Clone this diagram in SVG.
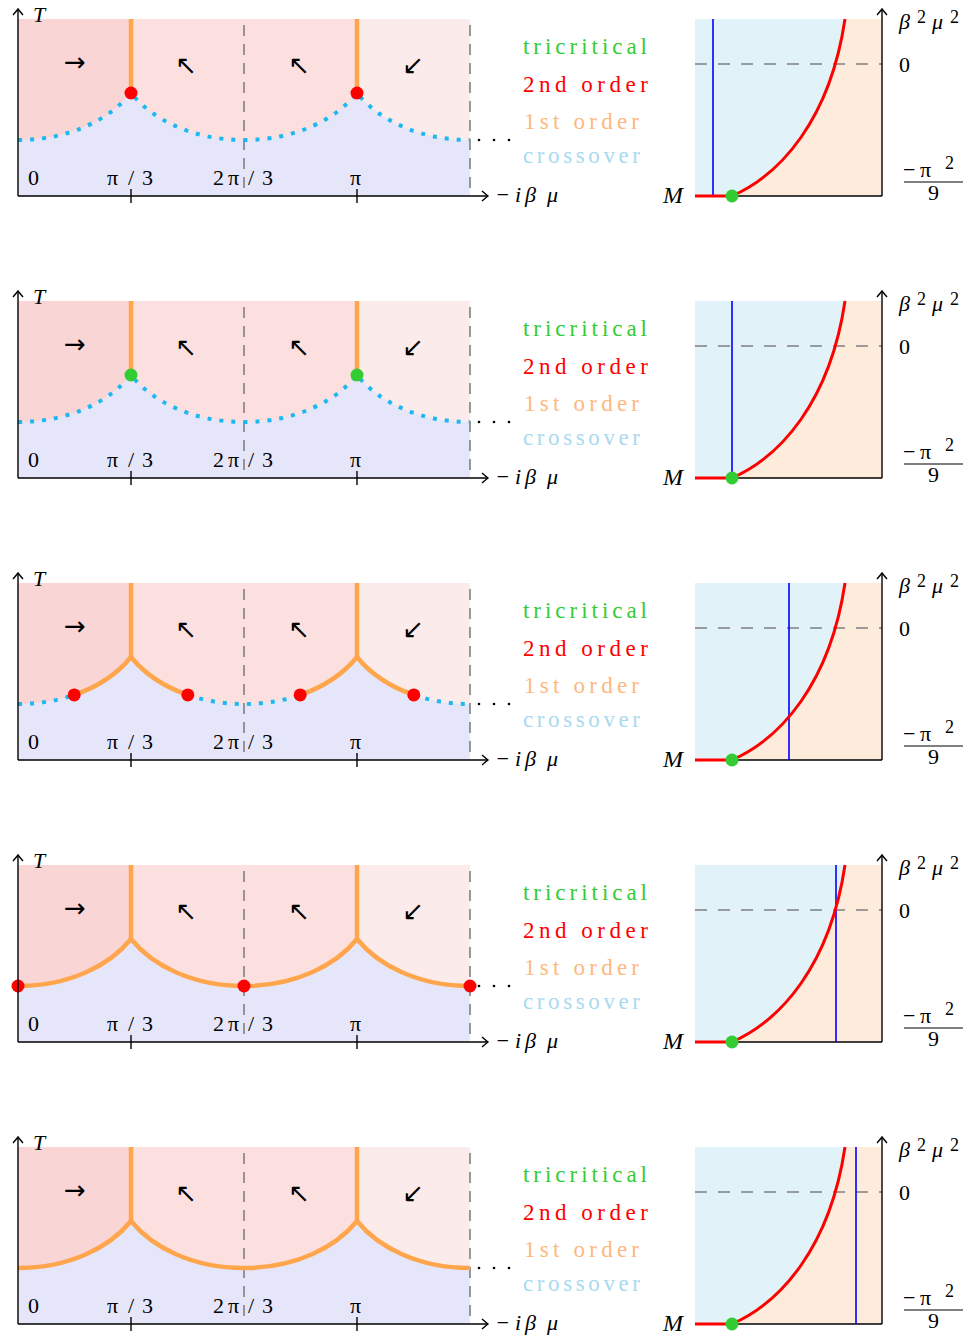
<svg xmlns="http://www.w3.org/2000/svg" xmlns:xlink="http://www.w3.org/1999/xlink" width="970" height="1335" viewBox="0 0 970 1335">
<style>
.t{font-family:"Liberation Serif","DejaVu Serif",serif;fill:#000;font-size:22px}
.s{font-family:"Liberation Serif","DejaVu Serif",serif;fill:#000;font-size:18px}
.it{font-style:italic}
.ax{stroke:#000;stroke-width:1.4;fill:none}
.vd{stroke:#808080;stroke-width:1.6;stroke-dasharray:11 8;fill:none}
.hd{stroke:#808080;stroke-width:1.6;stroke-dasharray:12 11;fill:none}
.or{stroke:#ffa64d;stroke-width:4.5;fill:none;stroke-linejoin:round}
.dt{stroke:#1fb8ee;stroke-width:4;stroke-dasharray:4 8;fill:none}
.arr{font-family:"DejaVu Sans",sans-serif;font-size:26px;text-anchor:middle;fill:#000}
.leg{font-family:"Liberation Serif","DejaVu Serif",serif;font-size:23px}
.bl{stroke:#0000ff;stroke-width:1.6}
.rd{fill:#ff0000}
.gr{fill:#33cc33}
</style>
<defs>
<marker id="ah" viewBox="-8 -7 10 14" refX="0" refY="0" markerWidth="10" markerHeight="14" markerUnits="userSpaceOnUse" orient="auto">
<path d="M-6,-5 Q-2,-1.5 0,0 Q-2,1.5 -6,5" fill="none" stroke="#000" stroke-width="1.4"/>
</marker>
<g id="leftbg">
<rect x="18" y="19" width="113" height="177" fill="#f9d5d5"/>
<rect x="131" y="19" width="226" height="177" fill="#fce0e0"/>
<rect x="357" y="19" width="113" height="177" fill="#fcebeb"/>
<path d="M18,196 L18,140 C70,140 110,119 131,93 C152,119 192,140 244,140 C296,140 336,119 357,93 C378,119 418,140 470,140 L470,196 Z" fill="#e6e6fa"/>
<line class="vd" x1="244" y1="25" x2="244" y2="196"/>
<line class="vd" x1="470" y1="25" x2="470" y2="196"/>
</g>
<path id="curve" d="M18,140 C70,140 110,119 131,93 C152,119 192,140 244,140 C296,140 336,119 357,93 C378,119 418,140 470,140"/>
<g id="verts">
<line class="or" x1="131" y1="19" x2="131" y2="93"/>
<line class="or" x1="357" y1="19" x2="357" y2="93"/>
</g>
<g id="leftaxes">
<text class="arr" x="75" y="71">→</text>
<text class="arr" x="186" y="74">↖</text>
<text class="arr" x="299" y="74">↖</text>
<text class="arr" x="413" y="74">↙</text>
<line class="ax" x1="18" y1="196" x2="488" y2="196" marker-end="url(#ah)"/>
<line class="ax" x1="18" y1="196" x2="18" y2="9" marker-end="url(#ah)"/>
<line class="ax" x1="131" y1="189" x2="131" y2="203"/>
<line class="ax" x1="357" y1="189" x2="357" y2="203"/>
<text class="t it" x="33" y="22">T</text>
<text class="t" x="28" y="185">0</text>
<text class="t" y="185"><tspan x="107">π</tspan><tspan x="128">/</tspan><tspan x="142">3</tspan></text>
<text class="t" y="185"><tspan x="213">2</tspan><tspan x="228">π</tspan><tspan x="248">/</tspan><tspan x="262">3</tspan></text>
<text class="t" x="350" y="185">π</text>
<circle cx="479" cy="140" r="1.3"/>
<circle cx="494" cy="140" r="1.3"/>
<circle cx="509" cy="140" r="1.3"/>
<text class="t it" y="202"><tspan x="495">−</tspan><tspan x="515">i</tspan><tspan x="525">β</tspan><tspan x="547">μ</tspan></text>
</g>
<g id="legend">
<text class="leg" x="523" y="54" fill="#33cc33" textLength="124">tricritical</text>
<text class="leg" x="523" y="92" fill="#ff0000" textLength="125">2nd order</text>
<text class="leg" x="524" y="129" fill="#fdb97d" textLength="115">1st order</text>
<text class="leg" x="523" y="163" fill="#a8daf0" textLength="117">crossover</text>
</g>
<g id="rbase">
<rect x="695" y="19" width="187" height="177" fill="#e1f2f9"/>
<path d="M732,196 C780,175 830,120 845,19 L882,19 L882,196 Z" fill="#fdebdc"/>
<line class="hd" x1="695" y1="64" x2="882" y2="64"/>
<line class="ax" x1="695" y1="196" x2="882" y2="196"/>
<line class="ax" x1="882" y1="196" x2="882" y2="9" marker-end="url(#ah)"/>
<text class="t it" x="899" y="29">β</text>
<text class="s" x="917" y="23">2</text>
<text class="t it" x="932" y="29">μ</text>
<text class="s" x="950" y="23">2</text>
<text class="t" x="899" y="72">0</text>
<text class="t" y="177"><tspan x="903">−</tspan><tspan x="920">π</tspan></text>
<text class="s" x="945" y="169">2</text>
<line x1="904" y1="182" x2="963" y2="182" stroke="#000" stroke-width="1.2"/>
<text class="t" x="928" y="200">9</text>
<text class="t it" x="663" y="203" style="font-size:24px">M</text>
</g>
<g id="rfg">
<line x1="695" y1="196" x2="732" y2="196" stroke="#ff0000" stroke-width="3"/>
<path d="M732,196 C780,175 830,120 845,19" stroke="#ff0000" stroke-width="3" fill="none"/>
<circle class="gr" cx="732" cy="196" r="6.5"/>
</g>
</defs>

<g id="row1">
<use href="#leftbg"/>
<use href="#curve" class="dt"/>
<use href="#verts"/>
<circle class="rd" cx="131" cy="93" r="6.5"/>
<circle class="rd" cx="357" cy="93" r="6.5"/>
<use href="#leftaxes"/>
<use href="#legend"/>
<use href="#rbase"/>
<line class="bl" x1="713" y1="19" x2="713" y2="196"/>
<use href="#rfg"/>
</g>

<g id="row2" transform="translate(0,282)">
<use href="#leftbg"/>
<use href="#curve" class="dt"/>
<use href="#verts"/>
<circle class="gr" cx="131" cy="93" r="6.5"/>
<circle class="gr" cx="357" cy="93" r="6.5"/>
<use href="#leftaxes"/>
<use href="#legend"/>
<use href="#rbase"/>
<line class="bl" x1="732" y1="19" x2="732" y2="196"/>
<use href="#rfg"/>
</g>

<g id="row3" transform="translate(0,564)">
<use href="#leftbg"/>
<path class="dt" d="M18,140 C38.8,140 57.68,136.64 74.19,130.94 M187.81,130.94 C204.32,136.64 223.2,140 244,140 C264.8,140 283.68,136.64 300.19,130.94 M413.81,130.94 C430.32,136.64 449.2,140 470,140"/>
<path class="or" d="M74.19,130.94 C98.96,122.4 118.4,108.6 131,93 C143.6,108.6 163.04,122.4 187.81,130.94 M300.19,130.94 C324.96,122.4 344.4,108.6 357,93 C369.6,108.6 389.04,122.4 413.81,130.94"/>
<use href="#verts"/>
<circle class="rd" cx="74.19" cy="130.94" r="6.5"/>
<circle class="rd" cx="187.81" cy="130.94" r="6.5"/>
<circle class="rd" cx="300.19" cy="130.94" r="6.5"/>
<circle class="rd" cx="413.81" cy="130.94" r="6.5"/>
<use href="#leftaxes"/>
<use href="#legend"/>
<use href="#rbase"/>
<line class="bl" x1="789" y1="19" x2="789" y2="196"/>
<use href="#rfg"/>
</g>

<g id="row4" transform="translate(0,846)">
<use href="#leftbg"/>
<use href="#curve" class="or"/>
<use href="#verts"/>
<circle class="rd" cx="18" cy="140" r="6.5"/>
<circle class="rd" cx="244" cy="140" r="6.5"/>
<circle class="rd" cx="470" cy="140" r="6.5"/>
<use href="#leftaxes"/>
<use href="#legend"/>
<use href="#rbase"/>
<line class="bl" x1="836" y1="19" x2="836" y2="196"/>
<use href="#rfg"/>
</g>

<g id="row5" transform="translate(0,1128)">
<use href="#leftbg"/>
<use href="#curve" class="or"/>
<use href="#verts"/>
<use href="#leftaxes"/>
<use href="#legend"/>
<use href="#rbase"/>
<line class="bl" x1="856" y1="19" x2="856" y2="196"/>
<use href="#rfg"/>
</g>
</svg>
